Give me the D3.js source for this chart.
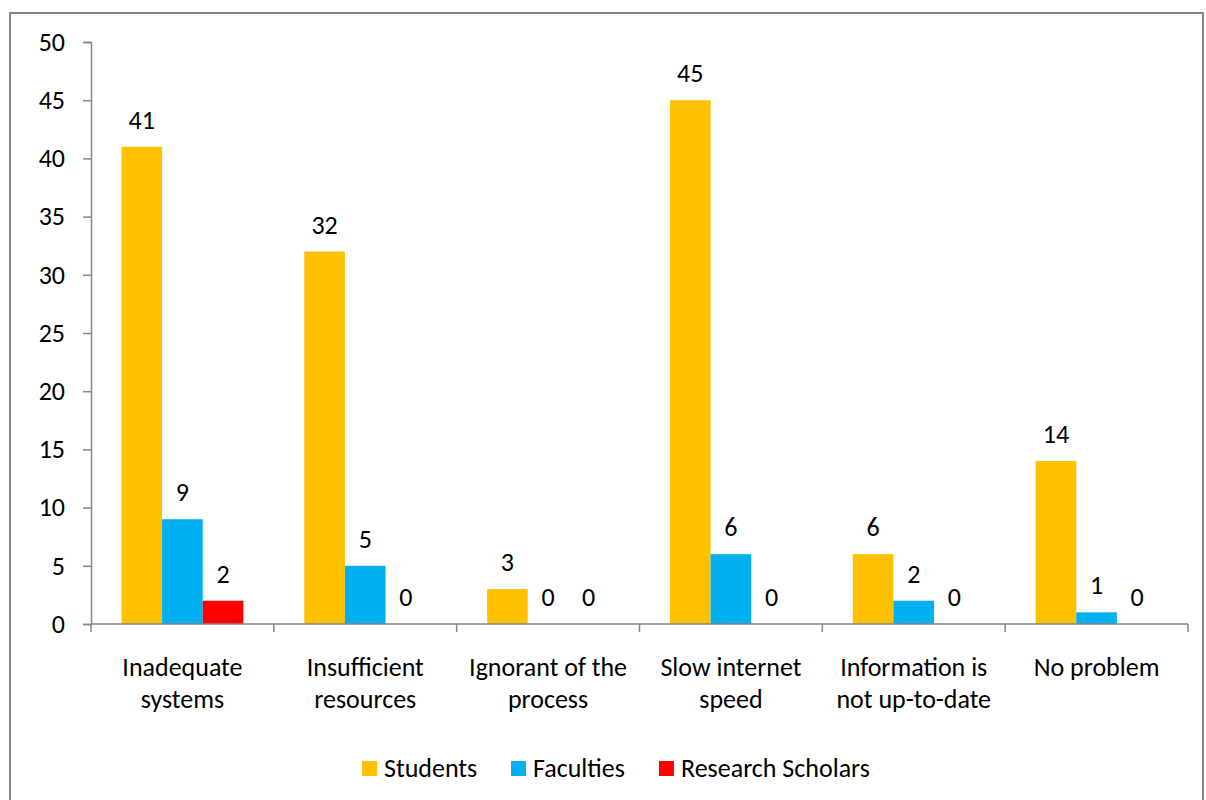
<!DOCTYPE html>
<html><head><meta charset="utf-8">
<script src="https://cdn.jsdelivr.net/npm/d3@7"></script>
<style>body{margin:0;background:#fff;} text{font-family:Carlito,Calibri,Lato,"Open Sans",sans-serif;fill:#000;}</style>
</head><body>
<svg id="chart" width="1206" height="800"></svg>
<script>
const categories = [["Inadequate","systems"],["Insufficient","resources"],["Ignorant of the","process"],["Slow internet","speed"],["Information is","not up-to-date"],["No problem"]];
const seriesNames = ["Students","Faculties","Research Scholars"];
const students = [41,32,3,45,6,14];
const faculties = [9,5,0,6,2,1];
const scholars = [2,0,0,0,0,0];
const yTicks = [0,5,10,15,20,25,30,35,40,45,50];
const colors = ["#FFC000","#00B0F0","#FF0000"];

(function(){
const FS = "26px";
const svg = d3.select("#chart");
svg.append("rect").attr("x",10).attr("y",13).attr("width",1193).attr("height",800)
  .attr("fill","none").attr("stroke","#868686").attr("stroke-width",2);

const pLeft=91, pRight=1188, pTop=42, pBottom=624;
const x0 = d3.scaleBand().domain(d3.range(categories.length)).range([pLeft,pRight]).paddingInner(0).paddingOuter(0);
const x1 = d3.scaleBand().domain(d3.range(3)).range([0,x0.bandwidth()]).paddingOuter(0.75).paddingInner(0);
const y = d3.scaleLinear().domain([0,50]).range([pBottom,pTop]);
const series=[students,faculties,scholars];

const yAxis = d3.axisLeft(y).tickValues(yTicks).tickSize(8).tickPadding(18);
const gy = svg.append("g").attr("transform",`translate(${pLeft},0)`).call(yAxis);
gy.attr("font-family",null).attr("font-size",null);
gy.select(".domain").attr("stroke","#868686").attr("stroke-width",1.5);
gy.selectAll(".tick line").attr("stroke","#868686").attr("stroke-width",1.5);
gy.selectAll(".tick text").style("font-size",FS).attr("fill","#000");

categories.forEach((c,i)=>{
  series.forEach((s,j)=>{
    const v=s[i];
    if(v>0){
      svg.append("rect").attr("x",x0(i)+x1(j)).attr("y",y(v)).attr("width",x1.bandwidth()).attr("height",y(0)-y(v)).attr("fill",colors[j]);
    }
  });
});
categories.forEach((c,i)=>{
  series.forEach((s,j)=>{
    const v=s[i];
    svg.append("text").attr("x",x0(i)+x1(j)+x1.bandwidth()/2).attr("y",y(v)-18)
      .attr("text-anchor","middle").style("font-size",FS).text(v);
  });
});

const gx = svg.append("g").attr("transform",`translate(0,${pBottom})`);
gx.append("line").attr("x1",pLeft).attr("x2",pRight).attr("stroke","#868686").attr("stroke-width",1.5);
d3.range(categories.length+1).forEach(k=>{
  const xx = k<categories.length ? x0(k) : pRight;
  gx.append("line").attr("x1",xx).attr("x2",xx).attr("y1",0).attr("y2",8).attr("stroke","#868686").attr("stroke-width",1.5);
});
categories.forEach((c,i)=>{
  const t = gx.append("text").attr("text-anchor","middle").style("font-size",FS);
  c.forEach((line,k)=>{
    t.append("tspan").attr("x",x0(i)+x0.bandwidth()/2).attr("y",52+k*32).text(line);
  });
});

const legX=[362,511,659];
seriesNames.forEach((n,j)=>{
  svg.append("rect").attr("x",legX[j]).attr("y",761).attr("width",15).attr("height",15).attr("fill",colors[j]);
  svg.append("text").attr("x",legX[j]+22).attr("y",777).style("font-size",FS).text(n);
});
})();
</script>
</body></html>
